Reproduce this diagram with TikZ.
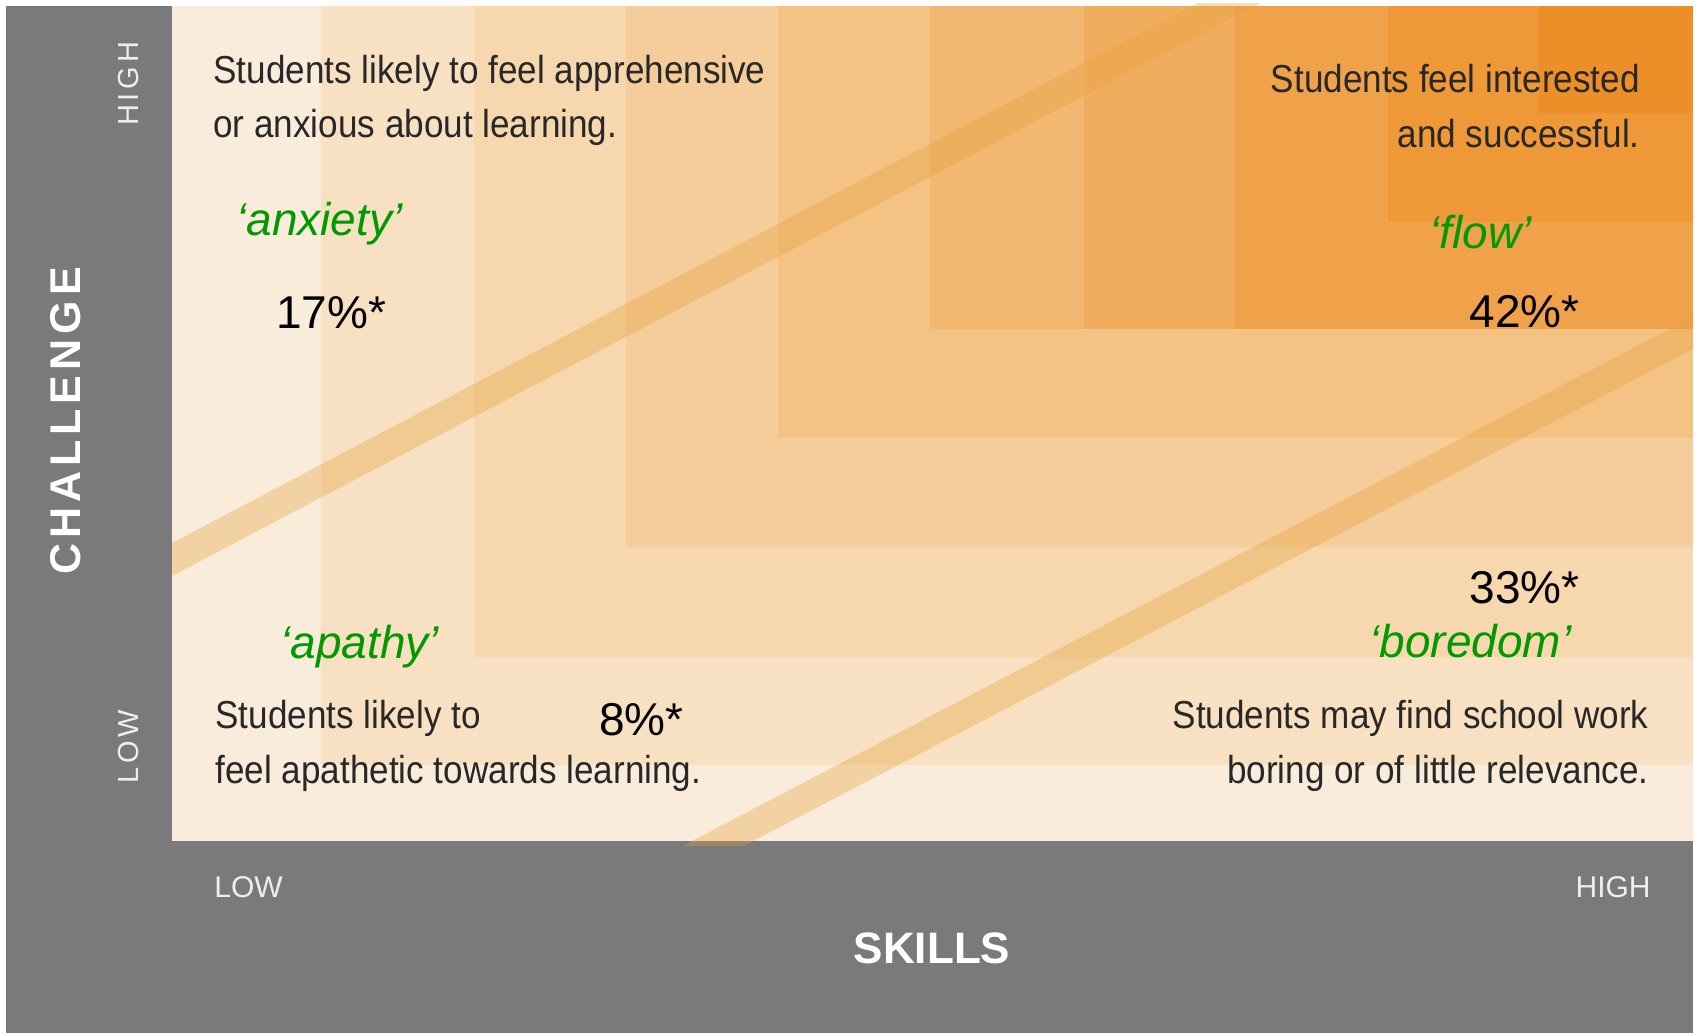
\documentclass[tikz,border=0pt]{standalone}
\usepackage{fontspec}
\setmainfont{Liberation Sans}
\newfontfamily\narrowfont[FakeStretch=0.9]{Liberation Sans}
\definecolor{axisgray}{RGB}{122,122,124}
\definecolor{bandA}{RGB}{249,236,219}
\definecolor{bandB}{RGB}{248,225,194}
\definecolor{bandC}{RGB}{247,216,174}
\definecolor{bandD}{RGB}{245,205,154}
\definecolor{bandE}{RGB}{244,194,131}
\definecolor{bandF}{RGB}{242,183,112}
\definecolor{bandG}{RGB}{240,173,93}
\definecolor{bandH}{RGB}{239,162,74}
\definecolor{bandI}{RGB}{238,152,55}
\definecolor{bandJ}{RGB}{236,143,40}
\definecolor{stripecol}{RGB}{230,162,62}
\definecolor{descgray}{RGB}{40,40,40}
\definecolor{stategreen}{RGB}{0,153,0}
\definecolor{ticktext}{RGB}{238,238,238}
\newcommand{\ka}{\kern2.5pt}
\newcommand{\kb}{\kern1.9pt}
\begin{document}
\begin{tikzpicture}[x=0.5pt,y=-0.5pt,
  desc/.style={inner sep=0pt, text=descgray, font=\narrowfont\fontsize{19.5}{23}\selectfont},
  state/.style={inner sep=0pt, text=stategreen, font=\itshape\fontsize{23}{27}\selectfont},
  pct/.style={inner sep=0pt, text=black, font=\fontsize{23}{27}\selectfont},
  tick/.style={inner sep=0pt, text=ticktext, font=\fontsize{15}{18}\selectfont},
  vtick/.style={inner sep=0pt, text=ticktext, rotate=90, font=\fontsize{14.5}{18}\selectfont},
  axislabel/.style={inner sep=0pt, text=white, font=\bfseries\fontsize{22}{26}\selectfont},
  stripe/.style={fill=stripecol, fill opacity=0.36}
]
\useasboundingbox (0,0) rectangle (1700,1033);
\fill[white] (0,0) rectangle (1700,1033);
\fill[axisgray] (6,6) rectangle (1693,1033);
% nested bands anchored at top-right
\fill[bandA] (172,6) rectangle (1693,841);
\fill[bandB] (321,6) rectangle (1693,765);
\fill[bandC] (474,6) rectangle (1693,657);
\fill[bandD] (626,6) rectangle (1693,547);
\fill[bandE] (778,6) rectangle (1693,438);
\fill[bandF] (930,6) rectangle (1693,329);
\fill[bandG] (1084,6) rectangle (1693,329);
\fill[bandH] (1235,6) rectangle (1693,329);
\fill[bandI] (1388,6) rectangle (1693,222);
\fill[bandJ] (1539,6) rectangle (1693,113);
% diagonal stripes
\begin{scope}
\clip (172,3) rectangle (1693,845);
\fill[stripe] (172,543) -- (1300,-51) -- (1300,-18) -- (172,576) -- cycle;
\fill[stripe] (650,863) -- (1750,287) -- (1750,319) -- (650,895) -- cycle;
\end{scope}
% descriptions
\node[desc, anchor=base west] (ul1) at (213,83) {Students likely to feel apprehensive};
\node[desc, anchor=base west] (ul2) at (213,137) {or anxious about learning.};
\node[desc, anchor=base east] (ur1) at (1640,92) {Students feel interested};
\node[desc, anchor=base east] (ur2) at (1640,147) {and successful.};
\node[desc, anchor=base west] (ll1) at (215,728) {Students likely to};
\node[desc, anchor=base west] (ll2) at (215,783) {feel apathetic towards learning.};
\node[desc, anchor=base east] (lr1) at (1649,728) {Students may find school work};
\node[desc, anchor=base east] (lr2) at (1649,783) {boring or of little relevance.};
% states
\node[state, anchor=base west] (anx) at (236,235) {‘anxiety’};
\node[state, anchor=base west] (flow) at (1429,248) {‘flow’};
\node[state, anchor=base west] (bor) at (1369,657) {‘boredom’};
\node[state, anchor=base west] (apa) at (280,658) {‘apathy’};
% percentages
\node[pct, anchor=base west] (p17) at (276,328) {17\%*};
\node[pct, anchor=base west] (p42) at (1469,327) {42\%*};
\node[pct, anchor=base west] (p33) at (1469,603) {33\%*};
\node[pct, anchor=base west] (p8) at (599,735) {8\%*};
% axes
\node[tick, anchor=base west] (xlow) at (214,897) {LOW};
\node[tick, anchor=base east] (xhigh) at (1651,897) {HIGH};
\node[axislabel, anchor=base] (skills) at (932,963) {SKILLS};
\node[axislabel, rotate=90, font=\bfseries\fontsize{21.5}{26}\selectfont] (chal) at (66,421) {C\ka H\ka A\ka L\ka L\ka E\ka N\ka G\ka E};
\node[vtick] (yhigh) at (129,84) {H\kb I\kb G\kb H};
\node[vtick] (ylow) at (129,747) {L\kb O\kb W};
\end{tikzpicture}
\end{document}
